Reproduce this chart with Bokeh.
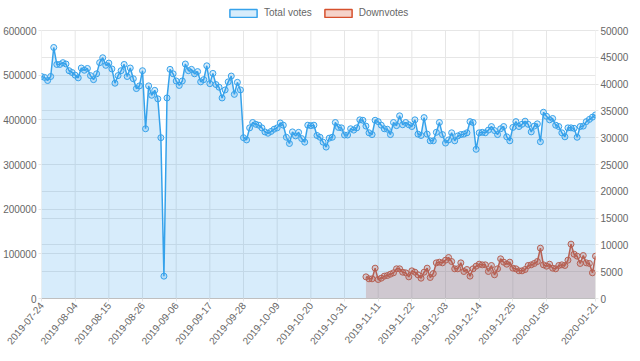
import math
import pandas as pd
from bokeh.plotting import figure
from bokeh.models import (Range1d, LinearAxis, FixedTicker, Grid, BasicTickFormatter,
                          Legend, LegendItem)
from bokeh.embed import file_html
from bokeh.resources import INLINE

# ---------------- data ----------------
dates = [d.strftime("%Y-%m-%d") for d in pd.date_range("2019-07-24", "2020-01-21", freq="D")]

tick_labels = ["2019-07-24", "2019-08-04", "2019-08-15", "2019-08-26", "2019-09-06",
               "2019-09-17", "2019-09-28", "2019-10-09", "2019-10-20", "2019-10-31",
               "2019-11-11", "2019-11-22", "2019-12-03", "2019-12-14", "2019-12-25",
               "2020-01-05", "2020-01-21"]

total_votes_k = [
    497, 495, 488, 497, 562, 524, 524, 528, 525, 510, 506, 500, 494, 516, 511, 515,
    499, 490, 503, 528, 539, 522, 527, 514, 482, 499, 510, 524, 497, 516, 492, 470,
    476, 510, 380, 476, 455, 466, 447, 360, 50, 449, 513, 503,
    487, 477, 487, 525, 510, 513, 503, 508, 485, 490, 521, 481, 504, 479, 473, 449,
    467, 485, 498, 457, 484, 467,
    360, 355, 382, 394, 390, 388, 382, 373, 370, 374, 379, 382, 393, 388,
    361, 347, 373, 364, 372, 358, 350, 388, 387, 388, 365, 361, 350, 339, 359, 361,
    394, 383, 382, 366, 366, 380, 377,
    382, 400, 399, 386, 371, 367, 399, 396, 388, 380, 379, 367, 394, 387, 409, 389,
    394, 389, 385, 400, 368, 365, 405, 368, 353, 353, 372, 394, 367, 348, 355, 371,
    353, 364, 367, 368, 371, 396, 394, 334,
    371, 372, 371, 377, 385, 376, 367, 380, 385, 362, 353, 383, 396, 385, 390, 397,
    390, 373, 386, 391, 351, 417, 408, 400, 403, 388, 385, 371, 362, 382, 382, 381,
    361, 385, 386, 396, 401, 406, 411,
]
total_votes = [v * 1000 for v in total_votes_k]

downvotes_first_date = "2019-11-07"
downvotes = [
    4040, 3670, 3670, 5660, 3540, 3790, 4170, 4290, 4540, 4790,
    5540, 5540, 4910, 4790, 4040, 5160, 4910, 4420, 3790, 4910,
    5660, 3920, 4660, 6650, 6780, 6650, 7150, 7650, 6900, 5540,
    5540, 6650, 5040, 5410, 4170, 5540, 6030, 6400, 6280, 6280,
    5040, 6160, 4420, 5540, 7400, 6780, 6400, 6780, 5660, 5540,
    5160, 5160, 5410, 6160, 6280, 6530, 6900, 9390, 6280, 6030,
    6400, 5660, 5540, 6160, 6280, 6160, 7150, 10140, 8270, 7900,
    6530, 8020, 6650, 6530, 4790, 7900,
]

left_ticks = [0, 100000, 200000, 300000, 400000, 500000, 600000]
right_ticks = [0, 5000, 10000, 15000, 20000, 25000, 30000, 35000, 40000, 45000, 50000]

# ---------------- derived positions ----------------
x_total = list(range(len(dates)))
start = dates.index(downvotes_first_date)
x_down = list(range(start, start + len(downvotes)))
tick_idx = [dates.index(t) for t in tick_labels]

BLUE = (54, 162, 235)
RED = (214, 80, 45)
GRID = "#e6e6e6"
TXT = "#666666"
FONT = "Liberation Sans"
FW = 554
PLOT_H = 268          # height of the 0..600000 area
LEG_H = 28            # strip above it that holds the legend
FH = PLOT_H + LEG_H
grow = FH / PLOT_H

p = figure(frame_width=FW, frame_height=FH, output_backend="svg", toolbar_location=None,
           x_range=Range1d(0, len(dates) - 1),
           y_range=Range1d(left_ticks[0], left_ticks[-1] * grow),
           min_border_left=0, min_border_right=0, min_border_top=2, min_border_bottom=0)
p.outline_line_color = None
p.background_fill_color = "white"
p.border_fill_color = "white"
p.extra_y_ranges = {"right": Range1d(right_ticks[0], right_ticks[-1] * grow)}

# grids: horizontal from both axes; vertical lines only span the value area
p.xgrid.grid_line_color = None
p.ygrid.ticker = FixedTicker(ticks=left_ticks)
p.ygrid.grid_line_color = GRID
scale = left_ticks[-1] / right_ticks[-1]
p.add_layout(Grid(dimension=1, ticker=FixedTicker(ticks=[t * scale for t in right_ticks]),
                  grid_line_color=GRID))
p.segment(x0=tick_idx, x1=tick_idx, y0=[left_ticks[0]] * len(tick_idx),
          y1=[left_ticks[-1]] * len(tick_idx), line_color=GRID, line_width=1, level="underlay")

# axes
xa = p.xaxis[0]
xa.ticker = FixedTicker(ticks=tick_idx)
xa.major_label_overrides = {i: lab for i, lab in zip(tick_idx, tick_labels)}
xa.major_label_orientation = math.radians(50)
xa.axis_line_color = "#bfbfbf"

ya = p.yaxis[0]
ya.ticker = FixedTicker(ticks=left_ticks)
ya.formatter = BasicTickFormatter(use_scientific=False)
ya.axis_line_color = None

ra = LinearAxis(y_range_name="right", ticker=FixedTicker(ticks=right_ticks),
                formatter=BasicTickFormatter(use_scientific=False))
ra.axis_line_color = None
p.add_layout(ra, "right")

for ax in (xa, ya, ra):
    ax.major_label_text_font_size = "10px"
    ax.major_label_text_color = TXT
    ax.major_label_text_font = FONT
    ax.major_tick_line_color = GRID
    ax.major_tick_out = 3
    ax.major_tick_in = 0
    ax.minor_tick_line_color = None
    ax.major_label_standoff = 2

# downvotes (drawn first, underneath)
p.varea(x=x_down, y1=[0] * len(downvotes), y2=downvotes, fill_color=RED, fill_alpha=0.25,
        y_range_name="right")
p.line(x_down, downvotes, line_color=RED, line_width=1.5, y_range_name="right")
p.scatter(x_down, downvotes, marker="circle", size=6, line_color=RED, line_width=1,
          fill_color=RED, fill_alpha=0.25, y_range_name="right")

# total votes (on top)
p.varea(x=x_total, y1=[0] * len(total_votes), y2=total_votes, fill_color=BLUE, fill_alpha=0.2)
p.line(x_total, total_votes, line_color=BLUE, line_width=1.5)
p.scatter(x_total, total_votes, marker="circle", size=6, line_color=BLUE, line_width=1,
          fill_color=BLUE, fill_alpha=0.2)

# legend proxies (outside the visible range, so only the legend shows them)
lg_total = p.quad(left=[-20], right=[-10], top=[-20], bottom=[-30], fill_color=BLUE,
                  fill_alpha=0.2, line_color=BLUE, line_width=1.5)
lg_down = p.quad(left=[-20], right=[-10], top=[-20], bottom=[-30], fill_color=RED,
                 fill_alpha=0.25, line_color=RED, line_width=1.5)
legend = Legend(items=[LegendItem(label="Total votes", renderers=[lg_total]),
                       LegendItem(label="Downvotes", renderers=[lg_down])],
                orientation="horizontal", location=(185, PLOT_H + 12),
                glyph_width=34, glyph_height=10, label_height=10,
                label_text_font_size="10px", label_text_color=TXT, label_text_font=FONT,
                label_standoff=4, spacing=9, padding=2, margin=0,
                border_line_color=None, background_fill_alpha=0)
p.add_layout(legend)

open("out.html", "w").write(file_html(p, INLINE))
